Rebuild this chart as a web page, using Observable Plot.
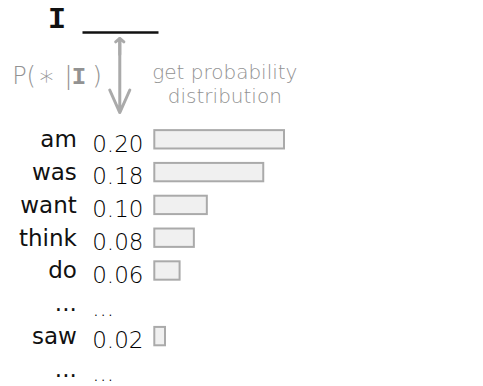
<!DOCTYPE html>
<html><head><meta charset="utf-8">
<script src="https://cdn.jsdelivr.net/npm/d3@7"></script>
<script src="https://cdn.jsdelivr.net/npm/@observablehq/plot@0.6"></script>
<style>body{margin:0;background:#fff} svg{display:block}</style>
</head><body><div id="chart"></div>
<script>
// rows of the distribution (index = row position)
const words  = ["am", "was", "want", "think", "do", "...", "saw", "..."];
const labels = ["0.20", "0.18", "0.10", "0.08", "0.06", "...", "0.02", "..."];
const rows   = [0, 1, 2, 3, 4, 5, 6, 7];

// bar lengths as drawn (probability units)
const barWords  = ["am", "was", "want", "think", "do", "saw"];
const barValues = [0.20, 0.168, 0.081, 0.061, 0.039, 0.0165];
const barRows   = [0, 1, 2, 3, 4, 6];

// header texts
const prefixToken = "I";
const probPieces = ["P(", "∗", "|", ")"];
const probPieceX = [-0.2200, -0.1670, -0.1331, -0.0891];
const probPieceAnchor = ["start", "middle", "middle", "middle"];
const probPieceSize = [24, 28, 25, 25];
const noteLines = ["get probability", "distribution"];
const noteY = [-2.064, -1.332];

const rowData = words.map((w, i) => ({word: w, label: labels[i], row: rows[i]}));
const barData = barWords.map((w, i) => ({word: w, v: barValues[i], row: barRows[i]}));

const GRAY = "#929292";
const LIGHT = "'DejaVu Sans', sans-serif";
const MONO = "'Liberation Mono', 'DejaVu Sans Mono', monospace";

const chart = Plot.plot({
  width: 483,
  height: 386,
  margin: 0,
  style: {background: "#fff", overflow: "visible"},
  x: {domain: [0, 0.2], range: [154.3, 284], axis: null},
  y: {domain: [0, 1], range: [139.3, 172.1], axis: null},
  marks: [
    // header "I ____"
    Plot.text([prefixToken], {x: -0.1508, y: -3.71, text: d => d, fontFamily: MONO,
      fontWeight: "bold", fontSize: 30, fill: "#111"}),
    Plot.link([0], {x1: -0.1115, x2: 0.0057, y1: -3.27, y2: -3.27, stroke: "#111", strokeWidth: 2.5}),
    // arrow
    Plot.arrow([0], {x1: -0.054, x2: -0.054, y1: -3.09, y2: -0.83, stroke: "#aaa", strokeWidth: 3,
      headLength: 18, headAngle: 48}),
    Plot.arrow([0], {x1: -0.054, x2: -0.054, y1: -2.6, y2: -3.09, stroke: "#aaa", strokeWidth: 3,
      headLength: 5, headAngle: 100}),
    // P( * | I)
    ...probPieces.map((t, i) => Plot.text([t], {x: probPieceX[i], y: -1.943, text: d => d,
      textAnchor: probPieceAnchor[i], fontFamily: LIGHT, fontWeight: 200,
      fontSize: probPieceSize[i], fill: GRAY})),
    Plot.text([prefixToken], {x: -0.1169, y: -1.943, text: d => d, fontFamily: MONO,
      fontWeight: "bold", fontSize: 24, fill: GRAY}),
    // note
    Plot.text(noteLines, {x: 0.108, y: (d, i) => noteY[i], text: d => d, fontFamily: LIGHT,
      fontWeight: 200, fontSize: 20, fill: GRAY}),
    // words
    Plot.text(rowData, {x: 0, y: "row", text: "word", textAnchor: "end", dx: -78,
      fontFamily: "'DejaVu Sans', sans-serif", fontSize: 23, fill: "#111"}),
    // numbers
    Plot.text(rowData, {x: 0, y: "row", text: "label", textAnchor: "start", dx: -62.6, dy: 4.5,
      fontFamily: LIGHT, fontWeight: 200, fontSize: 23, fill: "#000"}),
    // bars
    Plot.rect(barData, {x1: 0, x2: "v", y1: d => d.row - 0.28, y2: d => d.row + 0.28,
      fill: "#f0f0f0", stroke: "#aaa", strokeWidth: 2})
  ]
});
document.getElementById("chart").appendChild(chart);
</script>
</body></html>
